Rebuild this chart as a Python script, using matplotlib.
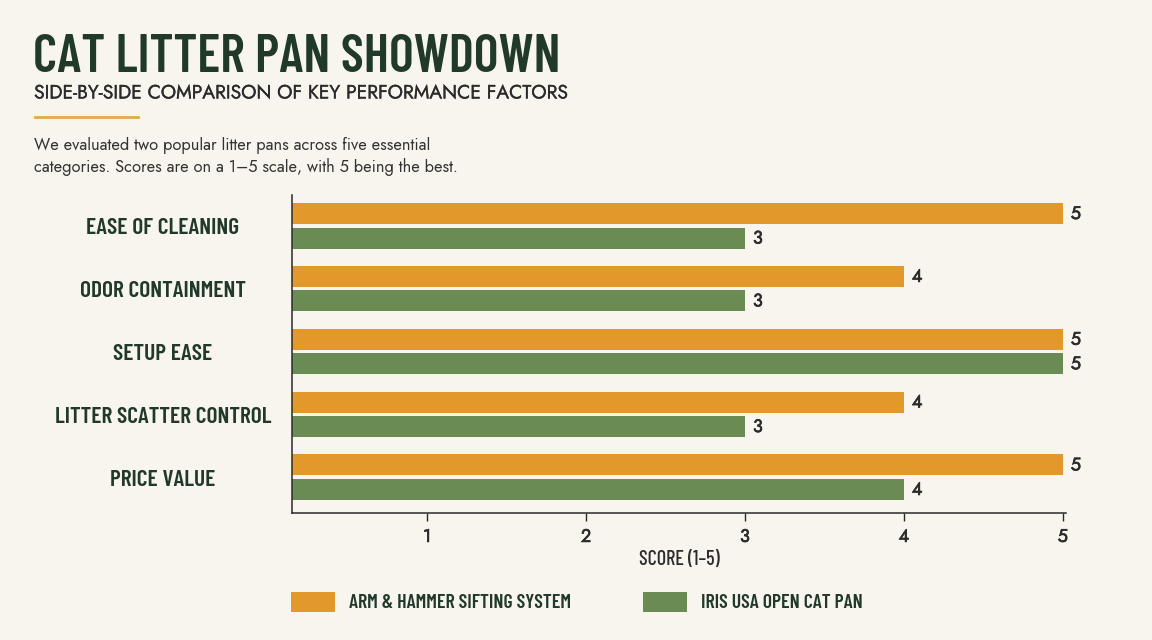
import numpy as np
import matplotlib.pyplot as plt
from matplotlib.lines import Line2D
import matplotlib.patheffects as pe

BODY = ['Jost', 'Nunito Sans', 'Lato', 'DejaVu Sans']
NARROW = ['Barlow Condensed', 'Oswald', 'Roboto Condensed', 'Archivo Narrow',
          'Asap Condensed', 'DejaVu Sans']
plt.rcParams['font.family'] = BODY

categories = ['EASE OF CLEANING', 'ODOR CONTAINMENT', 'SETUP EASE',
              'LITTER SCATTER CONTROL', 'PRICE VALUE']
arm_hammer = [5, 4, 5, 4, 5]
iris_usa = [3, 3, 5, 3, 4]
series_names = ['ARM & HAMMER SIFTING SYSTEM', 'IRIS USA OPEN CAT PAN']
ticks = [1, 2, 3, 4, 5]

BG = '#F8F5EE'
ORANGE = '#E3982B'
GREEN = '#6B8B55'
DARK = '#213A28'
TEXT = '#2B2B2B'

# Jost only ships one weight here, so thicken it a bit with a stroke
heavy = [pe.withStroke(linewidth=0.5, foreground=TEXT)]
medium = [pe.withStroke(linewidth=0.2, foreground=TEXT)]

fig = plt.figure(figsize=(11.52, 6.4), dpi=100, facecolor=BG)
W, H = 1152, 640

def fx(px):
    return px / W

def fy(py):
    return 1 - py / H

# header
fig.text(fx(33), fy(58), 'CAT LITTER PAN SHOWDOWN', family=NARROW, weight='semibold',
         fontsize=38, color=DARK, va='center', ha='left')
fig.text(fx(34), fy(93), 'SIDE-BY-SIDE COMPARISON OF KEY PERFORMANCE FACTORS',
         fontsize=13.9, color=TEXT, va='center', ha='left', path_effects=medium)
fig.add_artist(Line2D([fx(35), fx(138)], [fy(117), fy(117)], color='#E3A848', lw=2))
fig.text(fx(34), fy(145), 'We evaluated two popular litter pans across five essential',
         fontsize=11.8, color='#333333', va='center', ha='left')
fig.text(fx(34), fy(167), 'categories. Scores are on a 1\u20135 scale, with 5 being the best.',
         fontsize=11.8, color='#333333', va='center', ha='left')

# axes
ax = fig.add_axes([fx(292), fy(513), fx(1066 - 292), (513 - 195) / H])
ax.set_facecolor(BG)
y = np.arange(len(categories))
h = 0.335
off = 0.195
b1 = ax.barh(y - off, arm_hammer, height=h, color=ORANGE, label=series_names[0])
b2 = ax.barh(y + off, iris_usa, height=h, color=GREEN, label=series_names[1])

for bars in (b1, b2):
    for rect in bars:
        v = rect.get_width()
        ax.text(v + 0.05, rect.get_y() + rect.get_height() / 2, f'{v:g}',
                va='center', ha='left', fontsize=13, color=TEXT, path_effects=heavy)

ax.set_xlim(0.15, 5.02)
ax.set_ylim(4.57, -0.49)
ax.set_yticks(y)
ax.set_yticklabels([])
ax.tick_params(axis='y', length=0)
for yi, cat in zip(y, categories):
    fig.text(fx(163), ax.transData.transform((0, yi))[1] / H - 0.004, cat, family=NARROW,
             weight='semibold', fontsize=16.9, color=DARK, ha='center', va='center')

ax.set_xticks(ticks)
ax.set_xticklabels([str(t) for t in ticks], fontsize=13, color=TEXT)
for lab in ax.get_xticklabels():
    lab.set_path_effects(heavy)
ax.tick_params(axis='x', length=6, width=1, color=TEXT, pad=4)
ax.set_xlabel('SCORE (1\u20135)', family=NARROW, weight='medium', fontsize=14.5,
              color=TEXT, labelpad=3)

for s in ['top', 'right']:
    ax.spines[s].set_visible(False)
for s in ['left', 'bottom']:
    ax.spines[s].set_color('#2A2A2A')
    ax.spines[s].set_linewidth(1.1)

leg = fig.legend(handles=[b1, b2], loc='center left',
                 bbox_to_anchor=(fx(291), fy(602)), ncol=2, frameon=False,
                 borderaxespad=0, borderpad=0,
                 handlelength=2.23, handleheight=1.17, columnspacing=3.65,
                 handletextpad=0.71, prop={'family': NARROW, 'weight': 'semibold', 'size': 14.2})
for t in leg.get_texts():
    t.set_color(DARK)

fig.savefig('out.png', dpi=100, facecolor=BG)
